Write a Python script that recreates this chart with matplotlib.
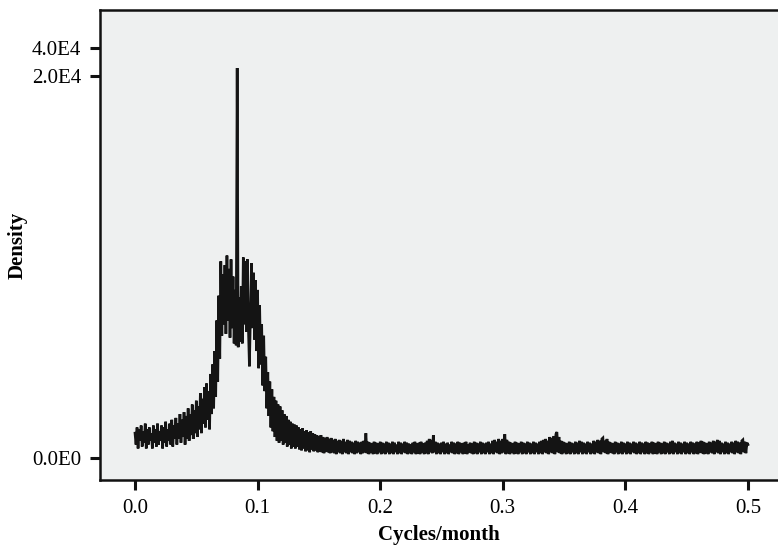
import numpy as np
import matplotlib
matplotlib.use("Agg")
import matplotlib.pyplot as plt

# ---- data ----
n_freq = 601
freq = np.linspace(0.0, 0.5, n_freq)   # cycles/month

density_rise = [
    1300, 700, 1600, 500, 1500, 900, 1700, 600, 1400, 800, 1800, 500, 1500, 700, 1600, 900, 1300, 500, 1700, 800,
    1500, 600, 1800, 700, 1400, 900, 1700, 500, 1600, 800, 1900, 600, 1500, 900, 1800, 700, 2000, 600, 1700, 1000,
    2100, 700, 1800, 1000, 2300, 800, 2000, 1100, 2400, 700, 2200, 1000, 2600, 900, 2300, 1200, 2800, 1000, 2500, 1300,
    3000, 1100, 2700, 1500, 3400, 1300, 3100, 1800, 3700, 1600, 3900, 2000, 3500, 1500, 4400, 2300, 4900, 2600, 5600, 3200,
]
density_peak = [
    7200, 4000, 8500, 5200, 10300, 6400, 9600, 7000, 10100, 6500, 10600, 7200, 9900, 6300, 10400, 6800, 9500, 6000, 8800, 5900,
    25700, 5800, 8400, 6100, 9000, 6000, 10500, 7000, 10300, 6600, 10400, 6800, 4800, 7500, 10200, 6800, 9700, 6200, 9300, 5600,
    8800, 4700, 8000, 4900, 7000, 3800, 6400, 3500, 5300, 2600, 4500, 2200, 4000, 1600, 3600, 1400, 3200, 1100, 3000, 900,
]
density_fall = [
    2800, 800, 2700, 900, 2500, 700, 2300, 800, 2200, 600, 2000, 700, 1900, 500, 1800, 600, 1750, 500, 1700, 600,
    1600, 450, 1500, 400, 1550, 500, 1400, 350, 1450, 400, 1350, 300, 1400, 450, 1300, 350, 1250, 400, 1200, 300,
    1150, 350, 1200, 300, 1100, 250, 1050, 350, 1100, 300, 1000, 250, 1050, 300, 950, 250, 1000, 200, 900, 300,
    950, 250, 900, 200, 1000, 300, 850, 250, 950, 200, 900, 300, 850, 250, 800, 200, 900, 250, 850, 300,
]
density_floor = [
    800, 200, 850, 250, 900, 300, 1300, 250, 850, 200, 800, 300, 750, 200, 850, 250, 800, 200, 750, 300,
    850, 200, 800, 250, 750, 200, 850, 300, 800, 200, 750, 250, 850, 200, 800, 300, 700, 200, 850, 250,
    800, 200, 750, 300, 850, 250, 800, 200, 750, 250, 700, 200, 800, 300, 850, 200, 750, 250, 800, 200,
    850, 300, 750, 200, 800, 250, 900, 200, 1000, 300, 950, 250, 1200, 300, 850, 200, 800, 250, 750, 200,
    800, 300, 850, 200, 750, 250, 800, 200, 700, 300, 850, 250, 800, 200, 750, 250, 850, 200, 800, 300,
    750, 200, 800, 250, 850, 200, 700, 300, 800, 250, 750, 200, 850, 250, 800, 200, 750, 300, 850, 200,
    800, 250, 750, 200, 800, 300, 850, 200, 750, 250, 900, 200, 950, 300, 850, 250, 1000, 200, 900, 250,
    1000, 300, 1250, 200, 950, 250, 850, 200, 800, 300, 750, 200, 850, 250, 800, 200, 750, 300, 850, 200,
    800, 250, 750, 200, 850, 300, 800, 200, 750, 250, 850, 200, 800, 300, 750, 200, 850, 250, 900, 200,
    950, 300, 1000, 250, 900, 200, 1100, 300, 1050, 250, 1150, 200, 1250, 1360, 300, 1100, 250, 900, 200, 850,
    300, 800, 200, 750, 250, 850, 200, 800, 300, 750, 200, 850, 250, 800, 200, 900, 300, 850, 200, 800,
    250, 750, 200, 850, 300, 800, 200, 750, 250, 900, 200, 850, 300, 950, 250, 900, 200, 1000, 1050, 300,
    900, 250, 1000, 200, 850, 300, 800, 250, 750, 200, 850, 300, 800, 200, 750, 250, 850, 200, 800, 300,
    750, 200, 850, 250, 800, 200, 750, 300, 850, 250, 800, 200, 750, 250, 850, 200, 800, 300, 750, 200,
    850, 250, 800, 200, 750, 300, 850, 200, 800, 250, 750, 200, 850, 300, 800, 200, 750, 250, 850, 200,
    800, 300, 750, 200, 850, 250, 900, 200, 800, 300, 750, 200, 850, 250, 800, 200, 750, 300, 850, 200,
    800, 250, 750, 200, 850, 300, 800, 200, 750, 250, 850, 200, 800, 300, 900, 250, 850, 200, 800, 250,
    750, 200, 850, 300, 800, 250, 900, 200, 850, 300, 950, 250, 900, 200, 800, 300, 750, 200, 850, 250,
    800, 200, 750, 300, 850, 250, 800, 200, 900, 300, 850, 250, 800, 200, 900, 950, 300, 850, 250, 800,
    700,
]
density = np.array(density_rise + density_peak + density_fall + density_floor, dtype=float)
assert len(density) == n_freq, len(density)

x_ticks = [0.0, 0.1, 0.2, 0.3, 0.4, 0.5]
x_ticklabels = ["0.0", "0.1", "0.2", "0.3", "0.4", "0.5"]
y_ticks = [0.0, 2.0e4, 4.0e4]
y_ticklabels = ["0.0E0", "2.0E4", "4.0E4"]

# ---- axis scale: linear up to 2E4, compressed above ----
BREAK = 2.0e4
K = 28.0 / 382.0


def fwd(v):
    v = np.asarray(v, dtype=float)
    return np.where(v <= BREAK, v, BREAK + (v - BREAK) * K)


def inv(u):
    u = np.asarray(u, dtype=float)
    return np.where(u <= BREAK, u, BREAK + (u - BREAK) / K)


plt.rcParams['font.family'] = ['Liberation Serif', 'DejaVu Serif']

fig = plt.figure(figsize=(7.78, 5.46), dpi=100)
fig.patch.set_facecolor("white")
ax = fig.add_axes([100 / 778, 66 / 546, 678 / 778, 470 / 546])
ax.set_facecolor("#eef0f0")

ax.plot(freq, density, color="#141414", linewidth=1.9, solid_joinstyle="miter")

ax.set_yscale("function", functions=(fwd, inv))
ax.set_xlim(-0.02855, 0.5245)
ax.set_ylim(-1152, 67150)

ax.set_xticks(x_ticks)
ax.set_xticklabels(x_ticklabels)
ax.set_yticks(y_ticks)
ax.set_yticklabels(y_ticklabels)
ax.minorticks_off()

ax.tick_params(axis="both", direction="out", length=7.5, width=2.2,
               color="#111111", labelsize=15, pad=6)
for side in ["left", "top", "bottom"]:
    ax.spines[side].set_linewidth(1.8)
    ax.spines[side].set_color("#111111")
ax.spines["right"].set_visible(False)

ax.set_xlabel("Cycles/month", fontsize=15, fontweight="bold", labelpad=5)
ax.set_ylabel("Density", fontsize=15, fontweight="bold", labelpad=3)

fig.savefig("out.png", dpi=100, facecolor="white")
